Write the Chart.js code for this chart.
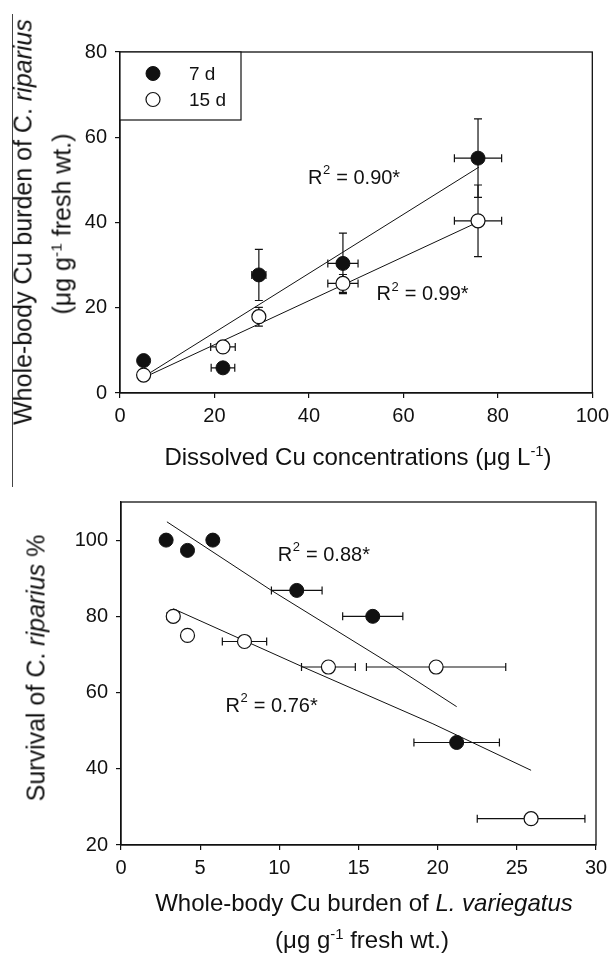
<!DOCTYPE html>
<html>
<head>
<meta charset="utf-8">
<script src="https://cdn.jsdelivr.net/npm/chart.js@4.4.0/dist/chart.umd.min.js"></script>
<style>
  body { margin: 0; background: #fff; width: 615px; height: 956px; position: relative; overflow: hidden;
         font-family: "Liberation Sans", Arial, sans-serif; color: #111; }
  canvas { position: absolute; left: 0; }
  .t { position: absolute; white-space: nowrap; line-height: 1; transform: translate(-50%, -50%); }
  .rot { transform: translate(-50%, -50%) rotate(-90deg); }
  sup { font-size: 0.62em; vertical-align: 0.6em; line-height: 0; }
  .edge { position: absolute; left: 12px; top: 14px; width: 1px; height: 473px; background: #444; }
</style>
</head>
<body>
<div class="edge"></div>
<canvas id="topChart" width="615" height="480" style="top:0;width:615px;height:480px"></canvas>
<canvas id="bottomChart" width="615" height="476" style="top:480px;width:615px;height:476px"></canvas>

<!-- axis titles -->
<div class="t rot" style="left:23px;top:222px;font-size:25px">Whole-body Cu burden of C. <i>riparius</i></div>
<div class="t rot" style="left:62px;top:224px;font-size:25px">(μg g<sup>-1</sup> fresh wt.)</div>
<div class="t" style="left:358px;top:457px;font-size:24px">Dissolved Cu concentrations (μg L<sup>-1</sup>)</div>

<div class="t rot" style="left:36px;top:668px;font-size:25px">Survival of C. <i>riparius</i> %</div>
<div class="t" style="left:364px;top:903px;font-size:24px">Whole-body Cu burden of <i>L. variegatus</i></div>
<div class="t" style="left:362px;top:940px;font-size:24px">(μg g<sup>-1</sup> fresh wt.)</div>

<script>
// ---------- top panel: C. riparius burden vs dissolved Cu ----------
const dissolved = [5.0, 21.8, 29.4, 47.2, 75.8];
const burden7d = [7.6, 5.9, 27.7, 30.4, 55.1];
const burden7dErr = [0, 0, 6.0, 7.1, 9.2];
const dissolved7dErr = [0, 2.5, 1.5, 3.2, 5.0];
const burden15d = [4.2, 10.8, 17.9, 25.7, 40.4];
const burden15dErr = [0, 0, 2.2, 2.1, 8.4];
const dissolved15dErr = [0, 2.6, 0, 3.2, 5.0];
// regression lines
const fitTopX = [5, 76];
const fitTop7d = [3.8, 53.0];
const fitTop15d = [3.6, 40.2];

// ---------- bottom panel: survival vs L. variegatus burden ----------
const lvBurden7d = [2.85, 4.2, 5.8, 11.1, 15.9, 21.2];
const survival7d = [100, 97.3, 100, 86.8, 80, 46.9];
const lvBurden7dErr = [0, 0, 0, 1.6, 1.9, 2.7];
const lvBurden15d = [3.3, 4.2, 7.8, 13.1, 19.9, 25.9];
const survival15d = [80, 75, 73.4, 66.7, 66.7, 26.9];
const lvBurden15dErr = [0.4, 0, 1.4, 1.7, 4.4, 3.4];
const fitBot7dX = [2.9, 9.5, 17.1, 21.2];
const fitBot7dY = [104.8, 86.8, 67.3, 56.3];
const fitBot15dX = [3.3, 11.5, 19.7, 25.9];
const fitBot15dY = [82.0, 66.7, 51.8, 39.6];

const INK = '#111';
const FONT = '"Liberation Sans", Arial, sans-serif';

const pts = (xs, ys) => xs.map((x, i) => ({ x, y: ys[i] }));

// plot frame (top + right sides too)
const frame = {
  id: 'frame',
  beforeDatasetsDraw(chart) {
    const { ctx, chartArea: a } = chart;
    ctx.save();
    ctx.strokeStyle = INK;
    ctx.lineWidth = 1.3;
    ctx.strokeRect(a.left, a.top, a.right - a.left, a.bottom - a.top);
    ctx.restore();
  }
};

// x / y error bars with caps, drawn under the markers
const errorBars = {
  id: 'errorBars',
  beforeDatasetsDraw(chart) {
    const { ctx, scales: { x, y } } = chart;
    const cap = 4;
    ctx.save();
    ctx.strokeStyle = INK;
    ctx.lineWidth = 1.2;
    chart.data.datasets.forEach(ds => {
      if (!ds.xErr && !ds.yErr) return;
      ds.data.forEach((p, i) => {
        const px = x.getPixelForValue(p.x), py = y.getPixelForValue(p.y);
        const ex = ds.xErr ? ds.xErr[i] : 0, ey = ds.yErr ? ds.yErr[i] : 0;
        ctx.beginPath();
        if (ex) {
          const l = x.getPixelForValue(p.x - ex), r = x.getPixelForValue(p.x + ex);
          ctx.moveTo(l, py); ctx.lineTo(r, py);
          ctx.moveTo(l, py - cap); ctx.lineTo(l, py + cap);
          ctx.moveTo(r, py - cap); ctx.lineTo(r, py + cap);
        }
        if (ey) {
          const t = y.getPixelForValue(p.y + ey), b = y.getPixelForValue(p.y - ey);
          ctx.moveTo(px, t); ctx.lineTo(px, b);
          ctx.moveTo(px - cap, t); ctx.lineTo(px + cap, t);
          ctx.moveTo(px - cap, b); ctx.lineTo(px + cap, b);
        }
        ctx.stroke();
      });
    });
    ctx.restore();
  }
};

// "R² = ..." notes placed in data units
function drawR2(ctx, x, y, value) {
  ctx.font = '20px ' + FONT;
  ctx.textBaseline = 'middle';
  ctx.fillText('R', x, y);
  let w = ctx.measureText('R').width;
  ctx.font = '13px ' + FONT;
  ctx.fillText('2', x + w + 0.5, y - 8);
  w += ctx.measureText('2').width + 1;
  ctx.font = '20px ' + FONT;
  ctx.fillText(' = ' + value, x + w, y);
}
const r2Notes = {
  id: 'r2Notes',
  afterDatasetsDraw(chart, args, opts) {
    const { ctx, scales: { x, y } } = chart;
    ctx.save();
    ctx.fillStyle = INK;
    (opts.notes || []).forEach(n => drawR2(ctx, x.getPixelForValue(n.x), y.getPixelForValue(n.y), n.text));
    ctx.restore();
  }
};

// boxed legend in the top-left corner of the plot
const boxLegend = {
  id: 'boxLegend',
  afterDatasetsDraw(chart, args, opts) {
    if (!opts.show) return;
    const { ctx, chartArea: a } = chart;
    ctx.save();
    ctx.fillStyle = '#fff';
    ctx.fillRect(a.left, a.top, 121, 68);
    ctx.strokeStyle = INK;
    ctx.lineWidth = 1.2;
    ctx.strokeRect(a.left, a.top, 121, 68);
    const rows = chart.data.datasets.filter(d => d.label);
    rows.forEach((d, i) => {
      const cy = a.top + 21.5 + i * 26;
      ctx.beginPath();
      ctx.arc(a.left + 33, cy, 7, 0, Math.PI * 2);
      ctx.fillStyle = d.backgroundColor;
      ctx.fill();
      ctx.lineWidth = d.borderWidth;
      ctx.strokeStyle = d.borderColor;
      ctx.stroke();
      ctx.fillStyle = INK;
      ctx.font = '19px ' + FONT;
      ctx.textBaseline = 'middle';
      ctx.fillText(d.label, a.left + 69, cy + 1);
    });
    ctx.restore();
  }
};

function axis(min, max, step, fitSize, isX) {
  return {
    type: 'linear', min, max,
    ticks: { stepSize: step, autoSkip: false, color: INK, padding: isX ? 6 : 8,
             font: { family: FONT, size: 20 } },
    // keep only the regular steps (no extra tick at an uneven max)
    afterBuildTicks(s) { s.ticks = s.ticks.filter(t => Math.abs((t.value - min) / step - Math.round((t.value - min) / step)) < 1e-6); },
    grid: { display: true, drawOnChartArea: false, drawTicks: true, tickLength: 5, color: INK, lineWidth: 1.2 },
    border: { display: true, color: INK, width: 1.3 },
    afterFit(s) { if (isX) s.height = fitSize; else s.width = fitSize; }
  };
}

function markerSets(xs7, ys7, xe7, ye7, xs15, ys15, xe15, ye15) {
  return [
    { label: '7 d', data: pts(xs7, ys7), xErr: xe7, yErr: ye7, pointRadius: 7,
      backgroundColor: INK, borderColor: INK, borderWidth: 1, order: 0 },
    { label: '15 d', data: pts(xs15, ys15), xErr: xe15, yErr: ye15, pointRadius: 7,
      backgroundColor: '#fff', borderColor: INK, borderWidth: 1.2, order: 1 }
  ];
}
function fitLine(xs, ys) {
  return { type: 'line', data: pts(xs, ys), borderColor: INK, borderWidth: 1, pointRadius: 0,
           fill: false, tension: 0, order: 2 };
}

const common = { responsive: false, animation: false, events: [],
                 plugins: { legend: { display: false }, tooltip: { enabled: false } } };

new Chart(document.getElementById('topChart'), {
  type: 'scatter',
  data: { datasets: [
    ...markerSets(dissolved, burden7d, dissolved7dErr, burden7dErr, dissolved, burden15d, dissolved15dErr, burden15dErr),
    fitLine(fitTopX, fitTop7d),
    fitLine(fitTopX, fitTop15d)
  ] },
  options: { ...common,
    layout: { padding: { left: 70, top: 52, right: 19, bottom: 47 } },
    scales: { x: axis(0, 100, 20, 40, true), y: axis(0, 80, 20, 50, false) },
    plugins: { ...common.plugins,
      boxLegend: { show: true },
      r2Notes: { notes: [ { x: 39.8, y: 50.4, text: '0.90*' }, { x: 54.3, y: 23.0, text: '0.99*' } ] } }
  },
  plugins: [frame, errorBars, r2Notes, boxLegend]
});

new Chart(document.getElementById('bottomChart'), {
  type: 'scatter',
  data: { datasets: [
    ...markerSets(lvBurden7d, survival7d, lvBurden7dErr, null, lvBurden15d, survival15d, lvBurden15dErr, null),
    fitLine(fitBot7dX, fitBot7dY),
    fitLine(fitBot15dX, fitBot15dY)
  ] },
  options: { ...common,
    layout: { padding: { left: 71, top: 22, right: 19, bottom: 71 } },
    scales: { x: axis(0, 30, 5, 40, true), y: axis(20, 110, 20, 50, false) },
    plugins: { ...common.plugins,
      boxLegend: { show: false },
      r2Notes: { notes: [ { x: 9.9, y: 95.9, text: '0.88*' }, { x: 6.6, y: 56.4, text: '0.76*' } ] } }
  },
  plugins: [frame, errorBars, r2Notes, boxLegend]
});
</script>
</body>
</html>
